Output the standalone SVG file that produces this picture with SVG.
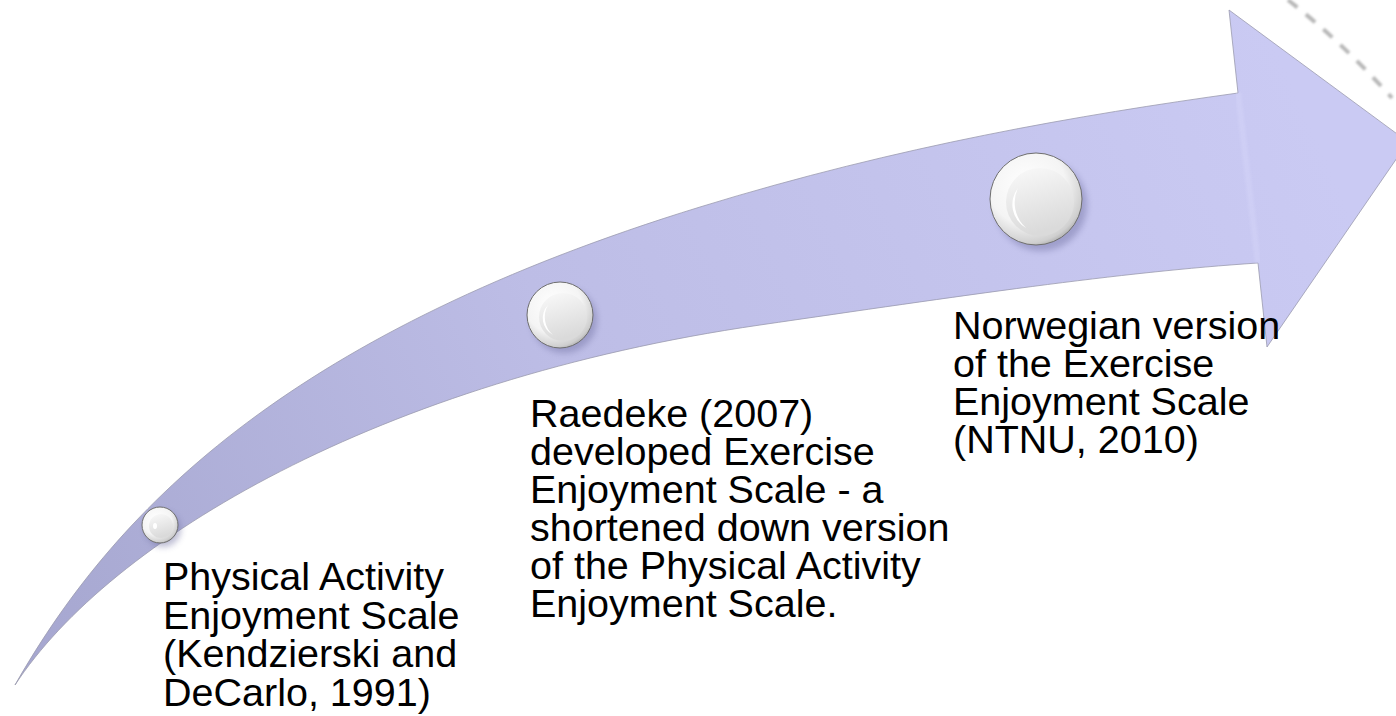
<svg xmlns="http://www.w3.org/2000/svg" width="1396" height="716" viewBox="0 0 1396 716">
  <defs>
    <linearGradient id="bandGrad" gradientUnits="userSpaceOnUse" x1="15" y1="685" x2="1300" y2="100">
      <stop offset="0" stop-color="#A5A6CF"/>
      <stop offset="0.45" stop-color="#BDBDE6"/>
      <stop offset="1" stop-color="#CACAF3"/>
    </linearGradient>
    <radialGradient id="outerGrad" cx="0.4" cy="0.35" r="0.7">
      <stop offset="0" stop-color="#FFFFFF"/>
      <stop offset="0.6" stop-color="#F4F4F4"/>
      <stop offset="0.9" stop-color="#CFCFCF"/>
      <stop offset="1" stop-color="#A8A8A8"/>
    </radialGradient>
    <linearGradient id="innerGrad" x1="0" y1="0" x2="0.3" y2="1">
      <stop offset="0" stop-color="#FAFAFA"/>
      <stop offset="1" stop-color="#DADADA"/>
    </linearGradient>
    <filter id="shadow" x="-50%" y="-50%" width="200%" height="200%">
      <feGaussianBlur stdDeviation="3"/>
    </filter>
    <filter id="soft" x="-10%" y="-50%" width="120%" height="200%">
      <feGaussianBlur stdDeviation="1.2"/>
    </filter>
    <style>
      .lbl { font-family: "Liberation Sans", Arial, sans-serif; font-size: 39.5px; fill: #000000; }
      .ring { fill: url(#outerGrad); stroke: #6E6E6E; stroke-width: 1; }
      .disc { fill: url(#innerGrad); }
      .shd { fill: #6F6FA0; opacity: 0.45; filter: url(#shadow); }
    </style>
  </defs>

  <g id="dashed-arc">
    <path d="M1288,0 Q1342,42 1392,98" fill="none" stroke="#B8B8B8" stroke-width="4" stroke-dasharray="12 11" filter="url(#soft)"/>
  </g>

  <g id="arrow">
    <path d="M15,685 C110,540 380,380 760,325 C960,296 1120,272 1258,263 L1267,347 L1408,142 L1229,10 L1238,93 C1080,115 900,145.5 700,207 C300,330 120,500 15,685 Z" fill="url(#bandGrad)" stroke="#9A9AAE" stroke-width="0.8"/>
    <path d="M1238,93 L1258,263" fill="none" stroke="#D4D4F8" stroke-width="6" opacity="0.5" filter="url(#soft)"/>
  </g>

  <g id="node1">
    <circle class="shd" cx="163" cy="529" r="18"/>
    <circle class="ring" cx="160" cy="525" r="18"/>
    <circle class="disc" cx="161" cy="526" r="12"/>
    <ellipse cx="155" cy="526" rx="2" ry="3" fill="#FFFFFF"/>
  </g>

  <g id="node2">
    <circle class="shd" cx="564" cy="320" r="33"/>
    <circle class="ring" cx="560" cy="315" r="33"/>
    <circle class="disc" cx="563" cy="317" r="24"/>
    <path d="M548,305 A19,19 0 0,0 553,335 A24,24 0 0,1 548,305 Z" fill="#FFFFFF"/>
  </g>

  <g id="node3">
    <circle class="shd" cx="1041" cy="205" r="46"/>
    <circle class="ring" cx="1036" cy="199" r="46"/>
    <circle class="disc" cx="1040" cy="202" r="34"/>
    <path d="M1018,188 A27,27 0 0,0 1026,228 A34,34 0 0,1 1018,188 Z" fill="#FFFFFF"/>
  </g>

  <g id="label1">
    <text class="lbl" x="163" y="590">Physical Activity<tspan x="163" dy="38.5">Enjoyment Scale</tspan><tspan x="163" dy="38.5">(Kendzierski and</tspan><tspan x="163" dy="38.5">DeCarlo, 1991)</tspan></text>
  </g>

  <g id="label2">
    <text class="lbl" x="530" y="427">Raedeke (2007)<tspan x="530" dy="38">developed Exercise</tspan><tspan x="530" dy="38">Enjoyment Scale - a</tspan><tspan x="530" dy="38">shortened down version</tspan><tspan x="530" dy="38">of the Physical Activity</tspan><tspan x="530" dy="38">Enjoyment Scale.</tspan></text>
  </g>

  <g id="label3">
    <text class="lbl" x="953" y="339">Norwegian version<tspan x="953" dy="38">of the Exercise</tspan><tspan x="953" dy="38">Enjoyment Scale</tspan><tspan x="953" dy="38">(NTNU, 2010)</tspan></text>
  </g>
</svg>
